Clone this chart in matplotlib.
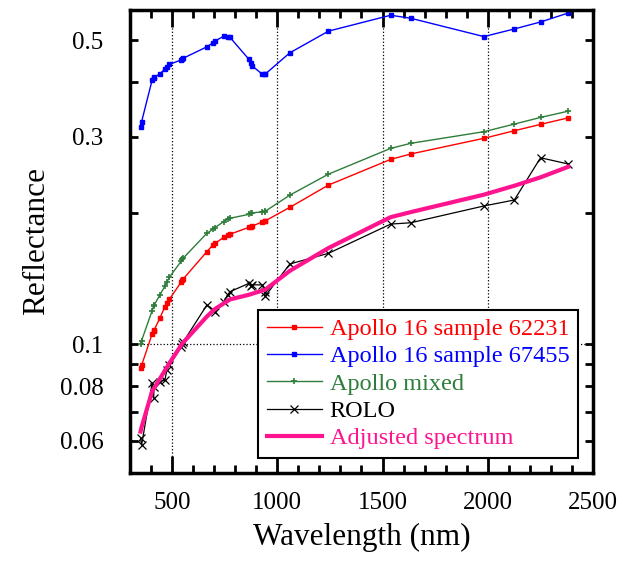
import matplotlib
matplotlib.use("Agg")
import matplotlib.pyplot as plt
from matplotlib.ticker import FixedLocator, FixedFormatter, MultipleLocator, NullLocator

plt.rcParams["font.family"] = ["Liberation Serif", "DejaVu Serif"]

# ROLO band wavelengths (nm)
wl = [350.0, 355.1, 405.0, 412.3, 414.4, 441.6, 465.8, 475.0, 486.9, 544.0,
      549.1, 553.8, 665.1, 693.1, 703.7, 745.3, 763.7, 774.8, 865.3, 872.8,
      882.0, 928.4, 939.3, 942.1, 1059.5, 1243.2, 1538.7, 1633.6, 1981.5,
      2126.3, 2250.9, 2383.6]

s62231 = [0.0881, 0.0895, 0.1056, 0.1075, 0.1078, 0.1148, 0.1220, 0.1243, 0.1269, 0.1392,
          0.1405, 0.1415, 0.1633, 0.1691, 0.1706, 0.1762, 0.1784, 0.1791, 0.1858, 0.1864,
          0.1870, 0.1913, 0.1920, 0.1922, 0.2065, 0.2324, 0.2662, 0.2739, 0.2976,
          0.3098, 0.3204, 0.3318]

s67455 = [0.316, 0.325, 0.405, 0.410, 0.412, 0.418, 0.430, 0.435, 0.440, 0.451,
          0.453, 0.455, 0.483, 0.4935, 0.498, 0.511, 0.510, 0.508, 0.452, 0.444,
          0.436, 0.418, 0.418, 0.418, 0.468, 0.525, 0.571, 0.562, 0.510,
          0.531, 0.551, 0.578]

mixed = [0.1000, 0.1020, 0.1195, 0.1225, 0.1230, 0.1298, 0.1361, 0.1390, 0.1426, 0.1555,
         0.1568, 0.1580, 0.1800, 0.1838, 0.1855, 0.1915, 0.1938, 0.1949, 0.1990, 0.2000,
         0.2005, 0.2017, 0.2020, 0.2022, 0.2203, 0.2462, 0.2822, 0.2898, 0.3082,
         0.3209, 0.3324, 0.3437]

rolo = [0.0608, 0.0587, 0.0813, 0.0752, 0.0799, 0.0820, 0.0828, 0.0873, 0.0895, 0.0987,
        0.1000, 0.1014, 0.1231, 0.1200, 0.1189, 0.1253, 0.1298, 0.1321, 0.1381, 0.1361,
        0.1370, 0.1370, 0.1320, 0.1290, 0.1530, 0.1619, 0.1890, 0.1903, 0.2080,
        0.2147, 0.2685, 0.2597]

adj_wl = [350, 355, 405, 441, 487, 549, 665, 703, 775, 865, 942, 1059, 1243,
          1538, 1633, 1981, 2126, 2250, 2383]
adjusted = [0.0630, 0.0645, 0.0780, 0.0832, 0.0905, 0.1005, 0.1158, 0.1205, 0.1268,
            0.1300, 0.1335, 0.1475, 0.1665, 0.1960, 0.2013, 0.2208, 0.2315, 0.2420, 0.2560]

ytick_vals = [0.06, 0.07, 0.08, 0.09, 0.1, 0.2, 0.3, 0.4, 0.5]
ytick_labels = ["0.06", "", "0.08", "", "0.1", "", "0.3", "", "0.5"]
xtick_vals = [500, 1000, 1500, 2000, 2500]

fig = plt.figure(figsize=(6.23, 5.63), dpi=100)
ax = fig.add_axes([0.2087, 0.1599, 0.7431, 0.8223])

# dotted grid
for x in [500, 1000, 1500, 2000]:
    ax.axvline(x, color="black", ls=":", lw=0.9, zorder=0)
ax.axhline(0.1, color="black", ls=":", lw=0.9, zorder=0)

ax.plot(wl, s62231, color="#ff0000", lw=1.0, marker="s", ms=3.0, label="Apollo 16 sample 62231")
ax.plot(wl, s67455, color="#0000ff", lw=1.0, marker="s", ms=3.0, label="Apollo 16 sample 67455")
ax.plot(wl, mixed, color="#2e7d3a", lw=1.0, marker="+", ms=4, mew=1.2, label="Apollo mixed")
ax.plot(wl, rolo, color="#000000", lw=0.9, marker="x", ms=6, mew=0.9, label="ROLO")
ax.plot(adj_wl, adjusted, color="#ff1490", lw=3.0, label="Adjusted spectrum")

ax.set_yscale("log")
ax.set_xlim(300, 2500)
ax.set_ylim(0.0506, 0.587)

ax.xaxis.set_major_locator(FixedLocator(xtick_vals))
ax.xaxis.set_minor_locator(MultipleLocator(100))
ax.yaxis.set_major_locator(FixedLocator(ytick_vals))
ax.yaxis.set_major_formatter(FixedFormatter(ytick_labels))
ax.yaxis.set_minor_locator(NullLocator())

ax.tick_params(which="both", direction="in", top=True, right=True, width=2)
ax.tick_params(axis="x", which="major", length=12, labelsize=18, pad=14)
ax.tick_params(axis="x", which="minor", length=6)
ax.tick_params(axis="y", which="major", length=6, labelsize=18, pad=19)
for sp in ax.spines.values():
    sp.set_linewidth(2.5)

ax.set_xlabel("Wavelength (nm)", fontsize=22.5, labelpad=6)
ax.set_ylabel("Reflectance", fontsize=22.5, labelpad=6)

leg = ax.legend(loc="lower right", bbox_to_anchor=(0.9676, 0.0324), borderaxespad=0,
                fontsize=17.5, numpoints=1, handlelength=2.3, handletextpad=0.3,
                labelspacing=0.22, borderpad=0.35, fancybox=False, framealpha=1,
                edgecolor="black", labelcolor="linecolor")
leg.get_frame().set_linewidth(1.5)

fig.savefig("out.png", dpi=100)
